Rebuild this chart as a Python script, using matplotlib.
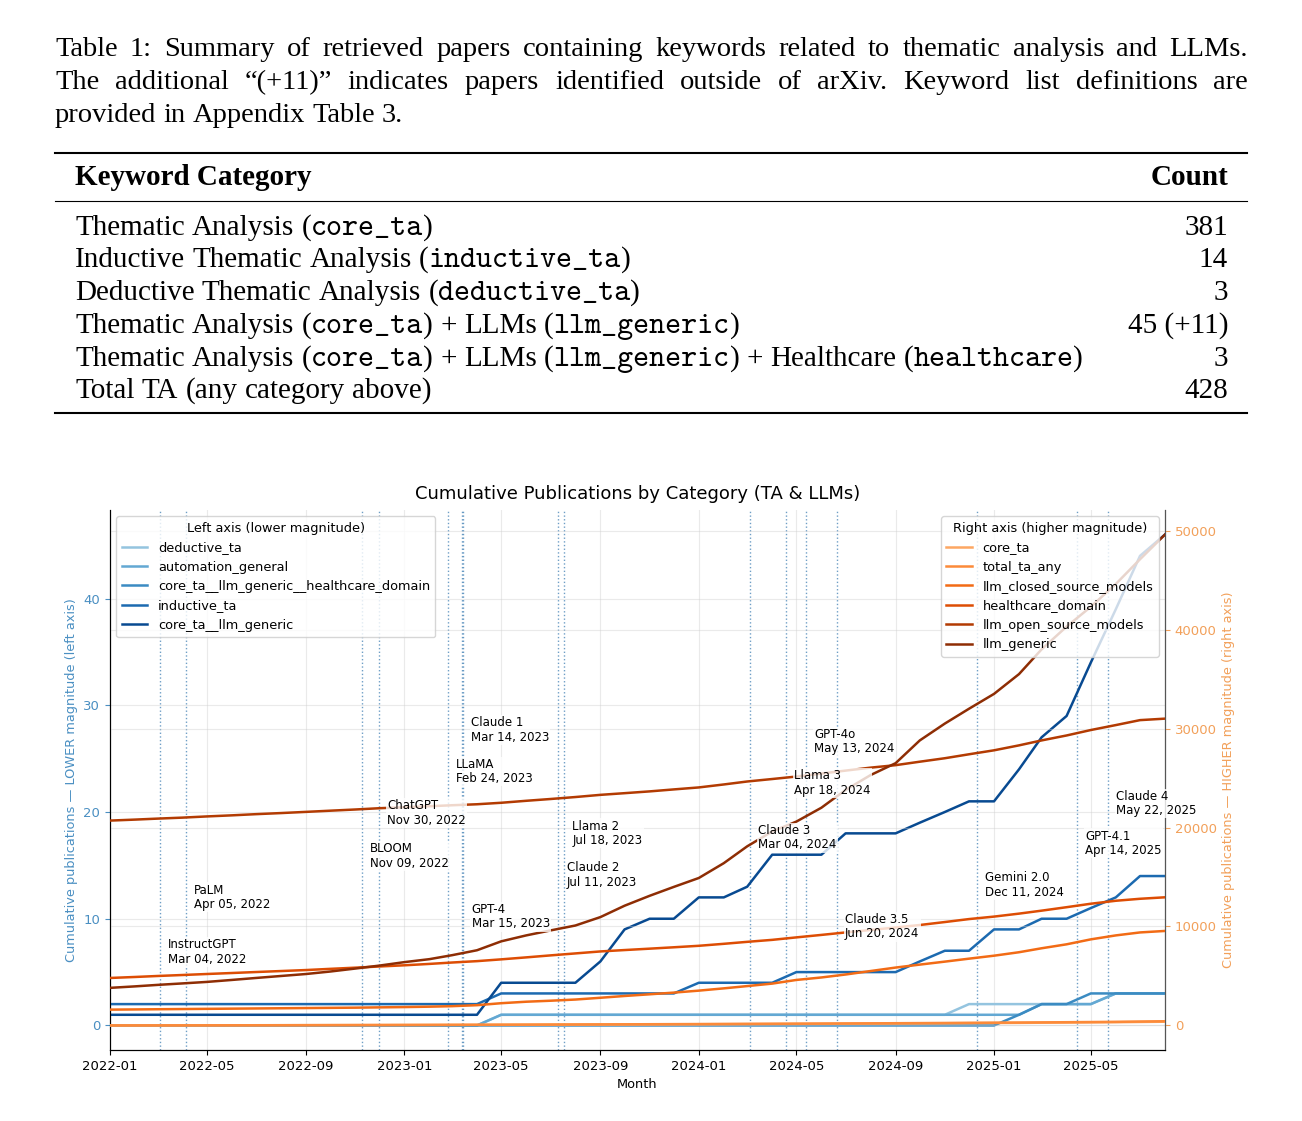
import os
import numpy as np
import pandas as pd
import matplotlib
matplotlib.use("Agg")
import matplotlib.pyplot as plt
import matplotlib.dates as mdates
import matplotlib.font_manager as fm
from matplotlib.lines import Line2D

W, H = 1302, 1121

# ---- table data ----
caption_lines = [
    "Table 1: Summary of retrieved papers containing keywords related to thematic analysis and LLMs.",
    "The additional \u201c(+11)\u201d indicates papers identified outside of arXiv.  Keyword list definitions are",
    "provided in Appendix Table 3.",
]
table_header = ("Keyword Category", "Count")
table_rows = [
    "Thematic Analysis (`core_ta`)",
    "Inductive Thematic Analysis (`inductive_ta`)",
    "Deductive Thematic Analysis (`deductive_ta`)",
    "Thematic Analysis (`core_ta`) + LLMs (`llm_generic`)",
    "Thematic Analysis (`core_ta`) + LLMs (`llm_generic`) + Healthcare (`healthcare`)",
    "Total TA (any category above)",
]
table_counts = ["381", "14", "3", "45 (+11)", "3", "428"]

# ---- chart data (monthly, 2022-01 .. 2025-08) ----
months = pd.date_range("2022-01-01", "2025-08-01", freq="MS")

deductive_ta = [0, 0, 0, 0, 0, 0, 0, 0, 0, 0, 0, 0, 0, 0, 0, 0,
                1, 1, 1, 1, 1, 1, 1, 1, 1, 1, 1, 1, 1, 1, 1, 1, 1, 1, 1,
                2, 2, 2, 2, 2, 2, 3, 3, 3]
automation_general = [0, 0, 0, 0, 0, 0, 0, 0, 0, 0, 0, 0, 0, 0, 0, 0,
                      1, 1, 1, 1, 1, 1, 1, 1, 1, 1, 1, 1, 1, 1, 1, 1, 1, 1, 1, 1, 1, 1,
                      2, 2, 2, 3, 3, 3]
core_ta_llm_health = [0, 0, 0, 0, 0, 0, 0, 0, 0, 0, 0, 0, 0, 0, 0, 0, 0, 0, 0, 0,
                      0, 0, 0, 0, 0, 0, 0, 0, 0, 0, 0, 0, 0, 0, 0, 0, 0,
                      1, 2, 2, 3, 3, 3, 3]
inductive_ta = [2, 2, 2, 2, 2, 2, 2, 2, 2, 2, 2, 2, 2, 2, 2, 2,
                3, 3, 3, 3, 3, 3, 3, 3, 4, 4, 4, 4, 5, 5, 5, 5, 5,
                6, 7, 7, 9, 9, 10, 10, 11, 12, 14, 14]
core_ta_llm = [1, 1, 1, 1, 1, 1, 1, 1, 1, 1, 1, 1, 1, 1, 1, 1,
               4, 4, 4, 4, 6, 9, 10, 10, 12, 12, 13, 16, 16, 16, 18, 18, 18,
               19, 20, 21, 21, 24, 27, 29, 34, 39, 44, 46]

core_ta = [2, 4, 7, 10, 13, 16, 20, 24, 28, 32, 36, 40, 45, 50, 55, 61, 67, 73, 80, 87,
           94, 101, 108, 116, 124, 132, 141, 150, 159, 169, 179, 189, 200, 211, 223, 236,
           249, 263, 278, 294, 311, 330, 355, 381]
total_ta_any = [3, 5, 8, 11, 15, 19, 23, 27, 32, 37, 42, 47, 53, 59, 65, 72, 79, 86, 94, 102,
                110, 118, 126, 135, 144, 153, 163, 173, 183, 194, 205, 216, 228, 240, 253, 267,
                281, 296, 312, 329, 347, 368, 397, 428]
llm_closed_source_models = [1600, 1620, 1640, 1660, 1680, 1700, 1720, 1740, 1760, 1780,
                            1800, 1830, 1860, 1900, 1950, 2050, 2250, 2400, 2500, 2620,
                            2800, 2980, 3150, 3320, 3520, 3750, 3980, 4230, 4600, 4850,
                            5150, 5500, 5850, 6150, 6450, 6750, 7050, 7400, 7800, 8200,
                            8700, 9100, 9400, 9550]
healthcare_domain = [4800, 4900, 5000, 5100, 5200, 5300, 5400, 5500, 5600, 5720,
                     5840, 5960, 6080, 6220, 6360, 6500, 6680, 6880, 7080, 7280,
                     7480, 7620, 7760, 7900, 8050, 8250, 8450, 8650, 8900, 9150,
                     9400, 9650, 9900, 10150, 10450, 10750, 11000, 11300, 11600, 11950,
                     12300, 12600, 12800, 12950]
llm_open_source_models = [20700, 20800, 20900, 21000, 21120, 21230, 21350, 21460, 21580, 21700,
                          21820, 21950, 22050, 22150, 22250, 22350, 22500, 22700, 22880, 23080,
                          23300, 23470, 23650, 23850, 24050, 24350, 24650, 24900, 25150, 25450,
                          25750, 26050, 26300, 26650, 27000, 27400, 27800, 28300, 28800, 29300,
                          29850, 30350, 30850, 31000]
llm_generic = [3800, 3950, 4100, 4250, 4400, 4600, 4800, 5000, 5200, 5450,
               5750, 6050, 6400, 6700, 7100, 7600, 8500, 9100, 9600, 10100,
               10950, 12100, 13100, 14000, 14900, 16400, 18100, 19600, 20600, 22000,
               23800, 25300, 26500, 28800, 30500, 32000, 33500, 35500, 38000, 40300,
               42300, 44600, 47100, 49600]

left_names = ["deductive_ta", "automation_general", "core_ta__llm_generic__healthcare_domain",
              "inductive_ta", "core_ta__llm_generic"]
left_series = [deductive_ta, automation_general, core_ta_llm_health, inductive_ta, core_ta_llm]
right_names = ["core_ta", "total_ta_any", "llm_closed_source_models", "healthcare_domain",
               "llm_open_source_models", "llm_generic"]
right_series = [core_ta, total_ta_any, llm_closed_source_models, healthcare_domain,
                llm_open_source_models, llm_generic]

release_names = ["InstructGPT", "PaLM", "BLOOM", "ChatGPT", "LLaMA", "Claude 1", "GPT-4",
                 "Claude 2", "Llama 2", "Claude 3", "Llama 3", "GPT-4o", "Claude 3.5",
                 "Gemini 2.0", "GPT-4.1", "Claude 4"]
release_dates = ["2022-03-04", "2022-04-05", "2022-11-09", "2022-11-30", "2023-02-24",
                 "2023-03-14", "2023-03-15", "2023-07-11", "2023-07-18", "2024-03-04",
                 "2024-04-18", "2024-05-13", "2024-06-20", "2024-12-11", "2025-04-14",
                 "2025-05-22"]
# label heights (left-axis units)
label_levels = [6.9, 12.0, 15.9, 19.9, 23.8, 27.7, 10.2, 14.1, 18.0, 17.6, 22.7, 26.6,
                9.25, 13.15, 17.06, 20.8]

fig = plt.figure(figsize=(W / 100, H / 100), dpi=100)
renderer = fig.canvas.get_renderer()

cmtt = os.path.join(matplotlib.get_data_path(), "fonts", "ttf", "cmtt10.ttf")
cap_font = fm.FontProperties(family="Liberation Serif", size=20.5)
serif = fm.FontProperties(family="Liberation Serif", size=21)
serif_b = fm.FontProperties(family="Liberation Serif", weight="bold", size=21)
mono = fm.FontProperties(fname=cmtt, size=22)


def fx(x):
    return x / W


def fy(y):
    return 1 - y / H


def width_of(s, fp):
    t = fig.text(0, 0, s, fontproperties=fp)
    w = t.get_window_extent(renderer).width
    t.remove()
    return w


def tokens_of(markup, base):
    toks = []
    for i, seg in enumerate(markup.split("`")):
        fp = mono if i % 2 else base
        parts = seg.split(" ")
        for j, p in enumerate(parts):
            if p == "":
                continue
            sp = (j > 0) or (seg.startswith(" "))
            toks.append([p, fp, sp])
    if toks:
        toks[0][2] = False
    return toks


def place(toks, x0, y, base, x1=None):
    widths = [width_of(t, fp) for t, fp, _ in toks]
    ngap = sum(1 for t in toks if t[2])
    if x1 is None:
        gap = width_of("a a", base) - width_of("aa", base)
    else:
        gap = (x1 - x0 - sum(widths)) / max(ngap, 1)
    x = x0
    for (t, fp, sp), w in zip(toks, widths):
        if sp:
            x += gap
        fig.text(fx(x), fy(y), t, fontproperties=fp, va="baseline", ha="left")
        x += w


# caption
cap_base = [56, 89, 122]
for i, line in enumerate(caption_lines):
    toks = [[w, cap_font, k > 0] for k, w in enumerate(line.split())]
    place(toks, 55, cap_base[i], cap_font, None if i == len(caption_lines) - 1 else 1248)

# table rules
for yy, lw in [(153, 1.5), (201, 0.8), (413, 1.5)]:
    fig.add_artist(Line2D([fx(55), fx(1247)], [fy(yy), fy(yy)], lw=lw, color="black"))

fig.text(fx(75), fy(185), table_header[0], fontproperties=serif_b, va="baseline")
fig.text(fx(1228), fy(185), table_header[1], fontproperties=serif_b, va="baseline", ha="right")
row_base = [235, 267, 300, 333, 366, 398]
for yb, row, cnt in zip(row_base, table_rows, table_counts):
    place(tokens_of(row, serif), 75, yb, serif)
    fig.text(fx(1228), fy(yb), cnt, fontproperties=serif, va="baseline", ha="right")

# ---- chart ----
ax = fig.add_axes([fx(110), 1 - 1050 / H, (1165 - 110) / W, 540 / H])
ax2 = ax.twinx()

blues = plt.cm.Blues(np.linspace(0.4, 0.9, 5))
oranges = plt.cm.Oranges(np.linspace(0.4, 0.95, 6))
left_c = "#4a8fc2"
right_c = "#f2a05a"

for d in release_dates:
    ax.axvline(pd.Timestamp(d), color="#4a86b8", ls=":", lw=1.0, alpha=0.8, zorder=1)

lh = []
for name, vals, c in zip(left_names, left_series, blues):
    l, = ax.plot(months, vals, color=c, lw=1.8, label=name, zorder=3)
    lh.append(l)
rh = []
for name, vals, c in zip(right_names, right_series, oranges):
    l, = ax2.plot(months, vals, color=c, lw=1.8, label=name, zorder=3)
    rh.append(l)

ax.set_xlim(months[0], months[-1])
ax.xaxis.set_major_locator(mdates.MonthLocator(bymonth=[1, 5, 9]))
ax.xaxis.set_major_formatter(mdates.DateFormatter("%Y-%m"))
ax.tick_params(axis="x", labelsize=9.5)
ax.tick_params(axis="y", labelsize=9.5, colors=left_c)
ax2.tick_params(axis="y", labelsize=9.5, colors=right_c)
ax.set_xlabel("Month", fontsize=9.3)
ax.set_ylabel("Cumulative publications \u2014 LOWER magnitude (left axis)", fontsize=9.3, color=left_c)
ax2.set_ylabel("Cumulative publications \u2014 HIGHER magnitude (right axis)", fontsize=9.3, color=right_c)
ax.set_title("Cumulative Publications by Category (TA & LLMs)", fontsize=13, pad=8)

ax.grid(True, color="#cccccc", lw=0.8, alpha=0.4)
ax2.grid(True, axis="y", color="#cccccc", lw=0.8, alpha=0.4)
for a in (ax, ax2):
    a.spines["top"].set_visible(False)
ax2.spines["right"].set_color("#555555")

for name, d, lev in zip(release_names, release_dates, label_levels):
    ts = pd.Timestamp(d)
    ax2.annotate(f"{name}\n{ts:%b %d, %Y}", xy=(mdates.date2num(ts), lev), xycoords=ax.transData,
                 xytext=(6, 0), textcoords="offset points", fontsize=8.5, va="center", ha="left",
                 linespacing=1.15, annotation_clip=False, zorder=5,
                 bbox=dict(boxstyle="square,pad=0.1", fc="white", ec="none", alpha=0.8))

leg1 = ax2.legend(handles=lh, loc="upper left", title="Left axis (lower magnitude)",
                  fontsize=9.3, title_fontsize=9.3, framealpha=0.8)
ax2.add_artist(leg1)
ax2.legend(handles=rh, loc="upper right", title="Right axis (higher magnitude)",
           fontsize=9.3, title_fontsize=9.3, framealpha=0.8)

fig.savefig("out.png", dpi=100)
